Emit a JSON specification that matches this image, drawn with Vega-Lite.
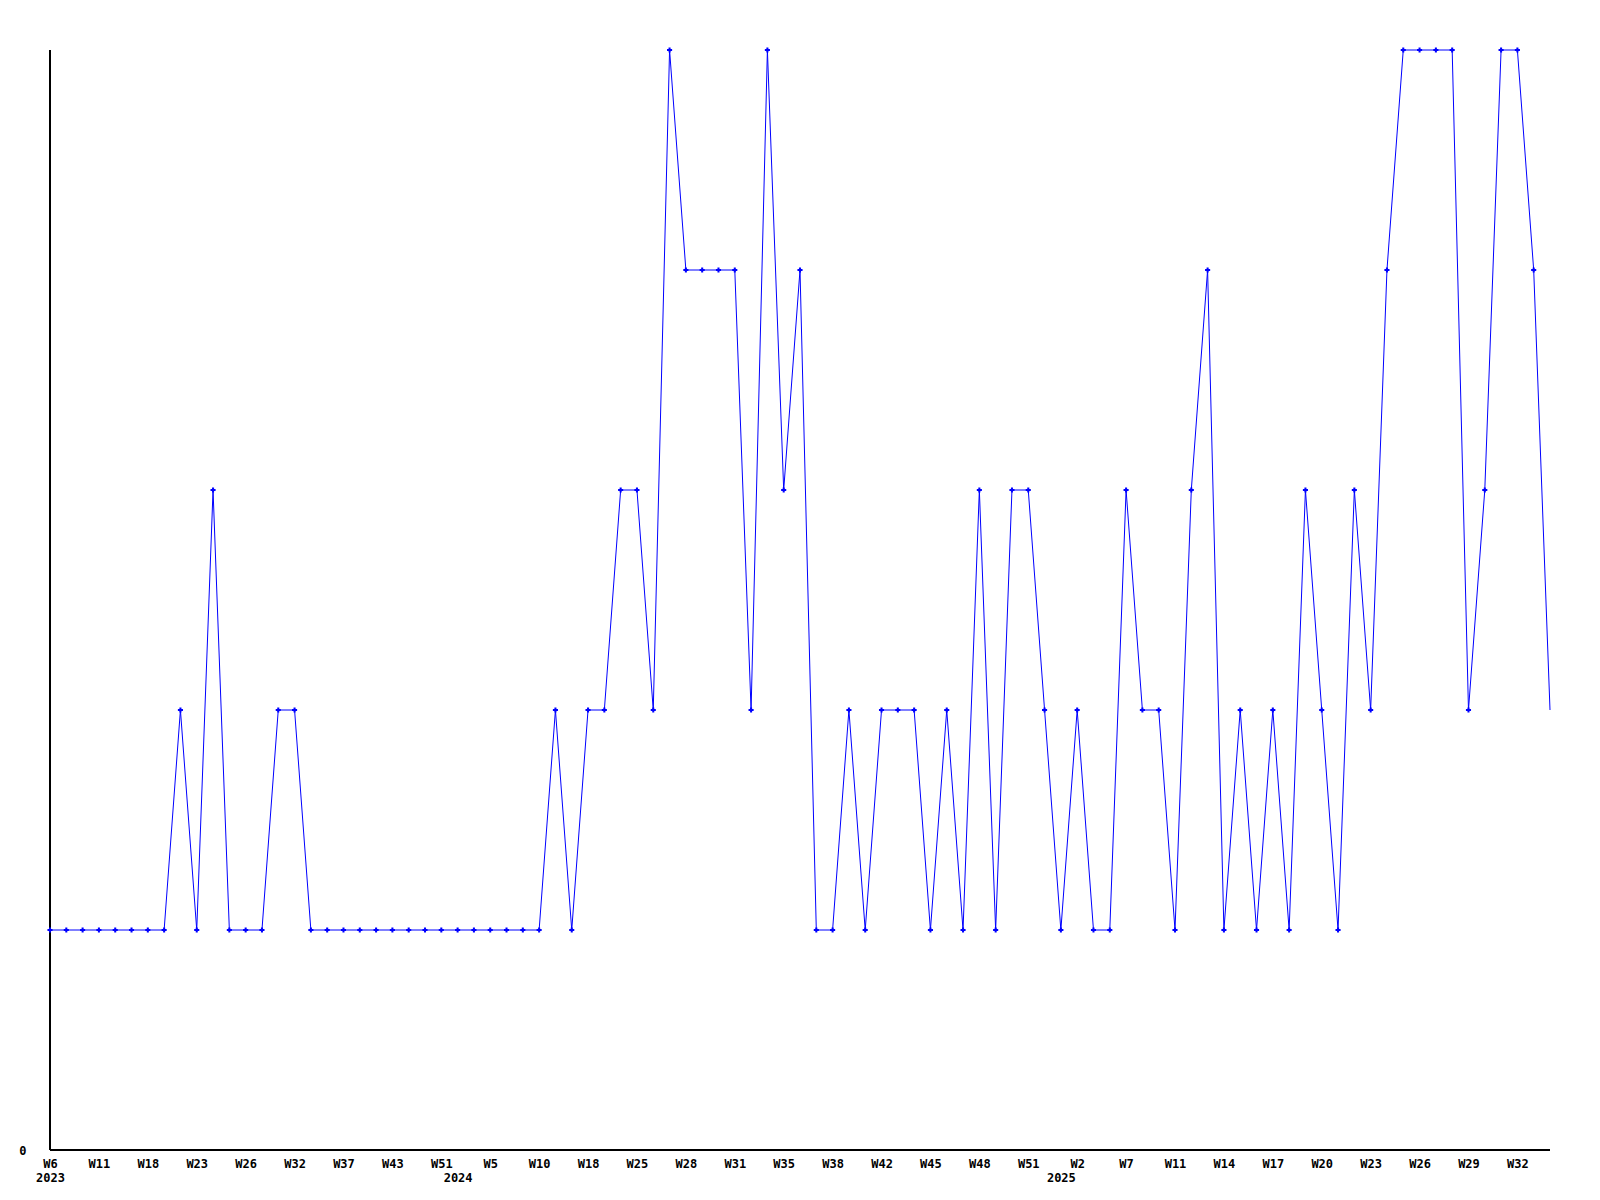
{
  "$schema": "https://vega.github.io/schema/vega-lite/v6.json",
  "width": 1500,
  "height": 1100,
  "autosize": {"type": "none"},
  "padding": {"left": 50, "top": 50, "right": 50, "bottom": 50},
  "background": "white",
  "config": {"view": {"stroke": null}},
  "data": {"values": [
    {"week": "2023-W06", "value": 1}, {"week": "2023-W08", "value": 1}, {"week": "2023-W09", "value": 1},
    {"week": "2023-W11", "value": 1}, {"week": "2023-W13", "value": 1}, {"week": "2023-W15", "value": 1},
    {"week": "2023-W18", "value": 1}, {"week": "2023-W20", "value": 1}, {"week": "2023-W22", "value": 2},
    {"week": "2023-W23", "value": 1}, {"week": "2023-W24", "value": 3}, {"week": "2023-W25", "value": 1},
    {"week": "2023-W26", "value": 1}, {"week": "2023-W28", "value": 1}, {"week": "2023-W30", "value": 2},
    {"week": "2023-W32", "value": 2}, {"week": "2023-W34", "value": 1}, {"week": "2023-W35", "value": 1},
    {"week": "2023-W37", "value": 1}, {"week": "2023-W39", "value": 1}, {"week": "2023-W41", "value": 1},
    {"week": "2023-W43", "value": 1}, {"week": "2023-W46", "value": 1}, {"week": "2023-W48", "value": 1},
    {"week": "2023-W51", "value": 1}, {"week": "2024-W01", "value": 1}, {"week": "2024-W03", "value": 1},
    {"week": "2024-W05", "value": 1}, {"week": "2024-W07", "value": 1}, {"week": "2024-W08", "value": 1},
    {"week": "2024-W10", "value": 1}, {"week": "2024-W12", "value": 2}, {"week": "2024-W15", "value": 1},
    {"week": "2024-W18", "value": 2}, {"week": "2024-W21", "value": 2}, {"week": "2024-W23", "value": 3},
    {"week": "2024-W25", "value": 3}, {"week": "2024-W26", "value": 2}, {"week": "2024-W27", "value": 5},
    {"week": "2024-W28", "value": 4}, {"week": "2024-W29", "value": 4}, {"week": "2024-W30", "value": 4},
    {"week": "2024-W31", "value": 4}, {"week": "2024-W32", "value": 2}, {"week": "2024-W34", "value": 5},
    {"week": "2024-W35", "value": 3}, {"week": "2024-W36", "value": 4}, {"week": "2024-W37", "value": 1},
    {"week": "2024-W38", "value": 1}, {"week": "2024-W39", "value": 2}, {"week": "2024-W40", "value": 1},
    {"week": "2024-W42", "value": 2}, {"week": "2024-W43", "value": 2}, {"week": "2024-W44", "value": 2},
    {"week": "2024-W45", "value": 1}, {"week": "2024-W46", "value": 2}, {"week": "2024-W47", "value": 1},
    {"week": "2024-W48", "value": 3}, {"week": "2024-W49", "value": 1}, {"week": "2024-W50", "value": 3},
    {"week": "2024-W51", "value": 3}, {"week": "2024-W52", "value": 2}, {"week": "2025-W01", "value": 1},
    {"week": "2025-W02", "value": 2}, {"week": "2025-W04", "value": 1}, {"week": "2025-W05", "value": 1},
    {"week": "2025-W07", "value": 3}, {"week": "2025-W08", "value": 2}, {"week": "2025-W10", "value": 2},
    {"week": "2025-W11", "value": 1}, {"week": "2025-W12", "value": 3}, {"week": "2025-W13", "value": 4},
    {"week": "2025-W14", "value": 1}, {"week": "2025-W15", "value": 2}, {"week": "2025-W16", "value": 1},
    {"week": "2025-W17", "value": 2}, {"week": "2025-W18", "value": 1}, {"week": "2025-W19", "value": 3},
    {"week": "2025-W20", "value": 2}, {"week": "2025-W21", "value": 1}, {"week": "2025-W22", "value": 3},
    {"week": "2025-W23", "value": 2}, {"week": "2025-W24", "value": 4}, {"week": "2025-W25", "value": 5},
    {"week": "2025-W26", "value": 5}, {"week": "2025-W27", "value": 5}, {"week": "2025-W28", "value": 5},
    {"week": "2025-W29", "value": 2}, {"week": "2025-W30", "value": 3}, {"week": "2025-W31", "value": 5},
    {"week": "2025-W32", "value": 5}, {"week": "2025-W33", "value": 4}, {"week": "2025-W34", "value": 2}
  ]},
  "encoding": {
    "x": {
      "field": "week", "type": "ordinal", "sort": null,
      "scale": {"type": "point", "padding": 0},
      "axis": {
        "title": null, "grid": false, "ticks": false, "domain": false,
        "labelAngle": 0, "labelPadding": 8, "labelFont": "DejaVu Sans Mono", "labelFontWeight": "bold",
        "labelFontSize": 12, "labelColor": "black", "labelLineHeight": 14, "labelBaseline": "top",
        "labelOverlap": false, "labelDx": -3,
        "values": ["2023-W06", "2023-W11", "2023-W18", "2023-W23", "2023-W26", "2023-W32", "2023-W37", "2023-W43", "2023-W51", "2024-W01", "2024-W05", "2024-W10", "2024-W18", "2024-W25", "2024-W28", "2024-W31", "2024-W35", "2024-W38", "2024-W42", "2024-W45", "2024-W48", "2024-W51", "2025-W01", "2025-W02", "2025-W07", "2025-W11", "2025-W14", "2025-W17", "2025-W20", "2025-W23", "2025-W26", "2025-W29", "2025-W32"],
        "labelExpr": "[split(datum.value,'-W')[1] == '01' ? '' : 'W' + toNumber(split(datum.value,'-W')[1]), (split(datum.value,'-W')[1] == '01' || datum.value == '2023-W06') ? split(datum.value,'-W')[0] : '']"
      }
    },
    "y": {
      "field": "value", "type": "quantitative",
      "scale": {"domain": [0, 5], "nice": false, "zero": true},
      "axis": {
        "title": null, "grid": false, "ticks": false, "domain": false, "values": [0],
        "labelPadding": 24, "labelFont": "DejaVu Sans Mono", "labelFontWeight": "bold",
        "labelFontSize": 12, "labelColor": "black"
      }
    }
  },
  "layer": [
    {"mark": {"type": "rule", "color": "black", "strokeWidth": 1}, "encoding": {"x": null, "y": {"datum": 0, "type": "quantitative"}}},
    {"mark": {"type": "rule", "color": "black", "strokeWidth": 1}, "encoding": {"y": null, "x": {"datum": "2023-W06", "type": "ordinal"}}},
    {"mark": {"type": "line", "color": "#0000ff", "strokeWidth": 1}},
    {
      "transform": [{"filter": "datum.week != '2025-W34'"}],
      "mark": {"type": "point", "shape": "cross", "filled": true, "size": 26, "color": "#0000ff", "opacity": 1}
    }
  ]
}
